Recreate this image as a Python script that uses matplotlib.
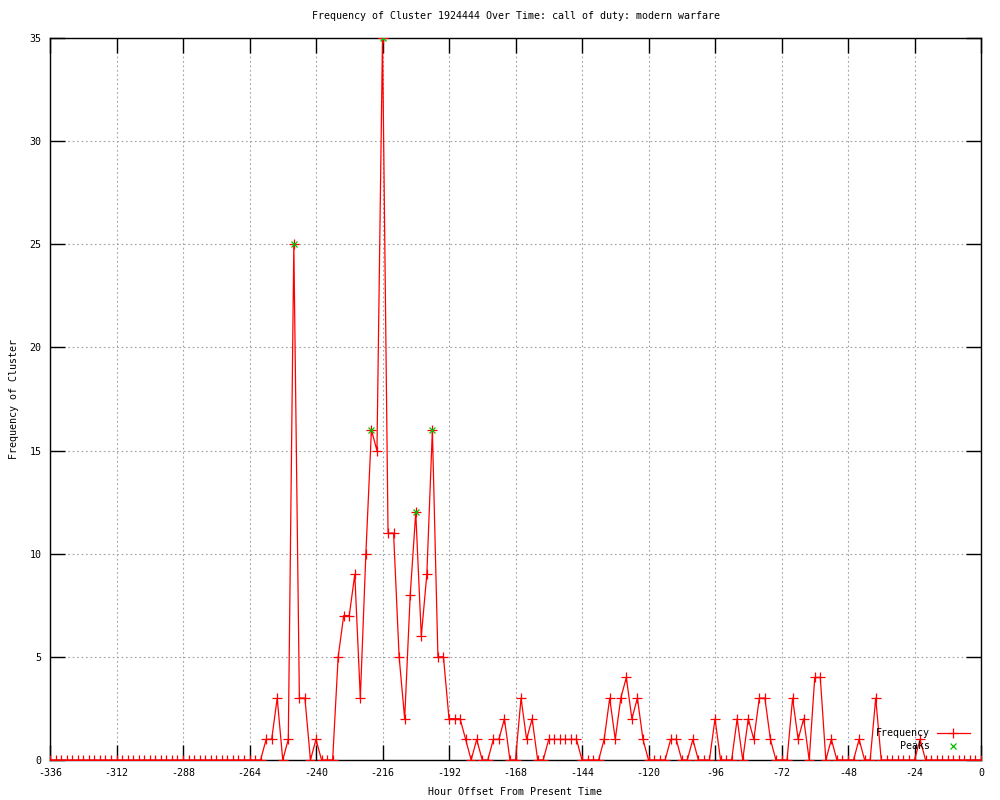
import matplotlib
matplotlib.use('Agg')
import matplotlib.pyplot as plt
from matplotlib.lines import Line2D

# hour offsets, one sample every 2 hours
HOURS = list(range(-336, 1, 2))

FREQ = [
    0, 0, 0, 0, 0, 0, 0, 0, 0, 0,
    0, 0, 0, 0, 0, 0, 0, 0, 0, 0,
    0, 0, 0, 0, 0, 0, 0, 0, 0, 0,
    0, 0, 0, 0, 0, 0, 0, 0, 0,
    1, 1, 3, 0, 1, 25, 3, 3, 0, 1,
    0, 0, 0, 5, 7, 7, 9, 3, 10, 16,
    15, 35, 11, 11, 5, 2, 8, 12, 6, 9,
    16, 5, 5, 2, 2, 2, 1, 0, 1, 0,
    0, 1, 1, 2, 0, 0, 3, 1, 2, 0,
    0, 1, 1, 1, 1, 1, 1, 0, 0, 0,
    0, 1, 3, 1, 3, 4, 2, 3, 1, 0,
    0, 0, 0, 1, 1, 0, 0, 1, 0, 0,
    0, 2, 0, 0, 0, 2, 0, 2, 1, 3,
    3, 1, 0, 0, 0, 3, 1, 2, 0, 4,
    4, 0, 1, 0, 0, 0, 0, 1, 0, 0,
    3, 0, 0, 0, 0, 0, 0, 0, 1, 0,
    0, 0, 0, 0, 0, 0, 0, 0, 0, 0,
]

PEAK_HOURS = [-248, -220, -216, -204, -198]
PEAK_VALUES = [25, 16, 35, 12, 16]

X_TICKS = list(range(-336, 1, 24))
Y_TICKS = list(range(0, 36, 5))

TITLE = "Frequency of Cluster 1924444 Over Time: call of duty: modern warfare"

plt.rcParams['font.family'] = ['DejaVu Sans Mono']
plt.rcParams['axes.unicode_minus'] = False
FS = 7.2

fig = plt.figure(figsize=(10, 8), dpi=100)
ax = fig.add_axes([0.05, 0.05, 0.931, 0.9025])

ax.plot(HOURS, FREQ, color='#ff0000', linewidth=0.9, marker='+',
        markersize=7, markeredgewidth=0.9, zorder=3)
ax.plot(PEAK_HOURS, PEAK_VALUES, linestyle='none', marker='x',
        color='#00c000', markersize=5, markeredgewidth=0.9, zorder=4)

ax.set_xlim(-336, 0)
ax.set_ylim(0, 35)
ax.set_xticks(X_TICKS)
ax.set_yticks(Y_TICKS)
ax.tick_params(direction='in', length=11, width=1, top=True, right=True,
               labelsize=FS, pad=6)
ax.grid(True, color='#a0a0a0', linestyle=(0, (1.5, 2.5)), linewidth=0.8)
for s in ax.spines.values():
    s.set_linewidth(1)

ax.set_title(TITLE, fontsize=FS, pad=14)
ax.set_xlabel("Hour Offset From Present Time", fontsize=FS, labelpad=6)
ax.set_ylabel("Frequency of Cluster", fontsize=FS, labelpad=8)

# gnuplot-style key, bottom right, text right-aligned
ax.text(0.945, 0.0374, "Frequency", transform=ax.transAxes, ha='right',
        va='center', fontsize=FS)
ax.text(0.945, 0.0194, "Peaks", transform=ax.transAxes, ha='right',
        va='center', fontsize=FS)
ax.add_line(Line2D([0.953, 0.988], [0.0374, 0.0374], transform=ax.transAxes,
                   color='#ff0000', linewidth=0.9, clip_on=False))
ax.add_line(Line2D([0.970], [0.0374], transform=ax.transAxes, color='#ff0000',
                   marker='+', markersize=7, markeredgewidth=0.9, clip_on=False))
ax.add_line(Line2D([0.970], [0.0194], transform=ax.transAxes, color='#00c000',
                   marker='x', markersize=5, markeredgewidth=0.9,
                   linestyle='none', clip_on=False))

fig.savefig("out.png", dpi=100)
